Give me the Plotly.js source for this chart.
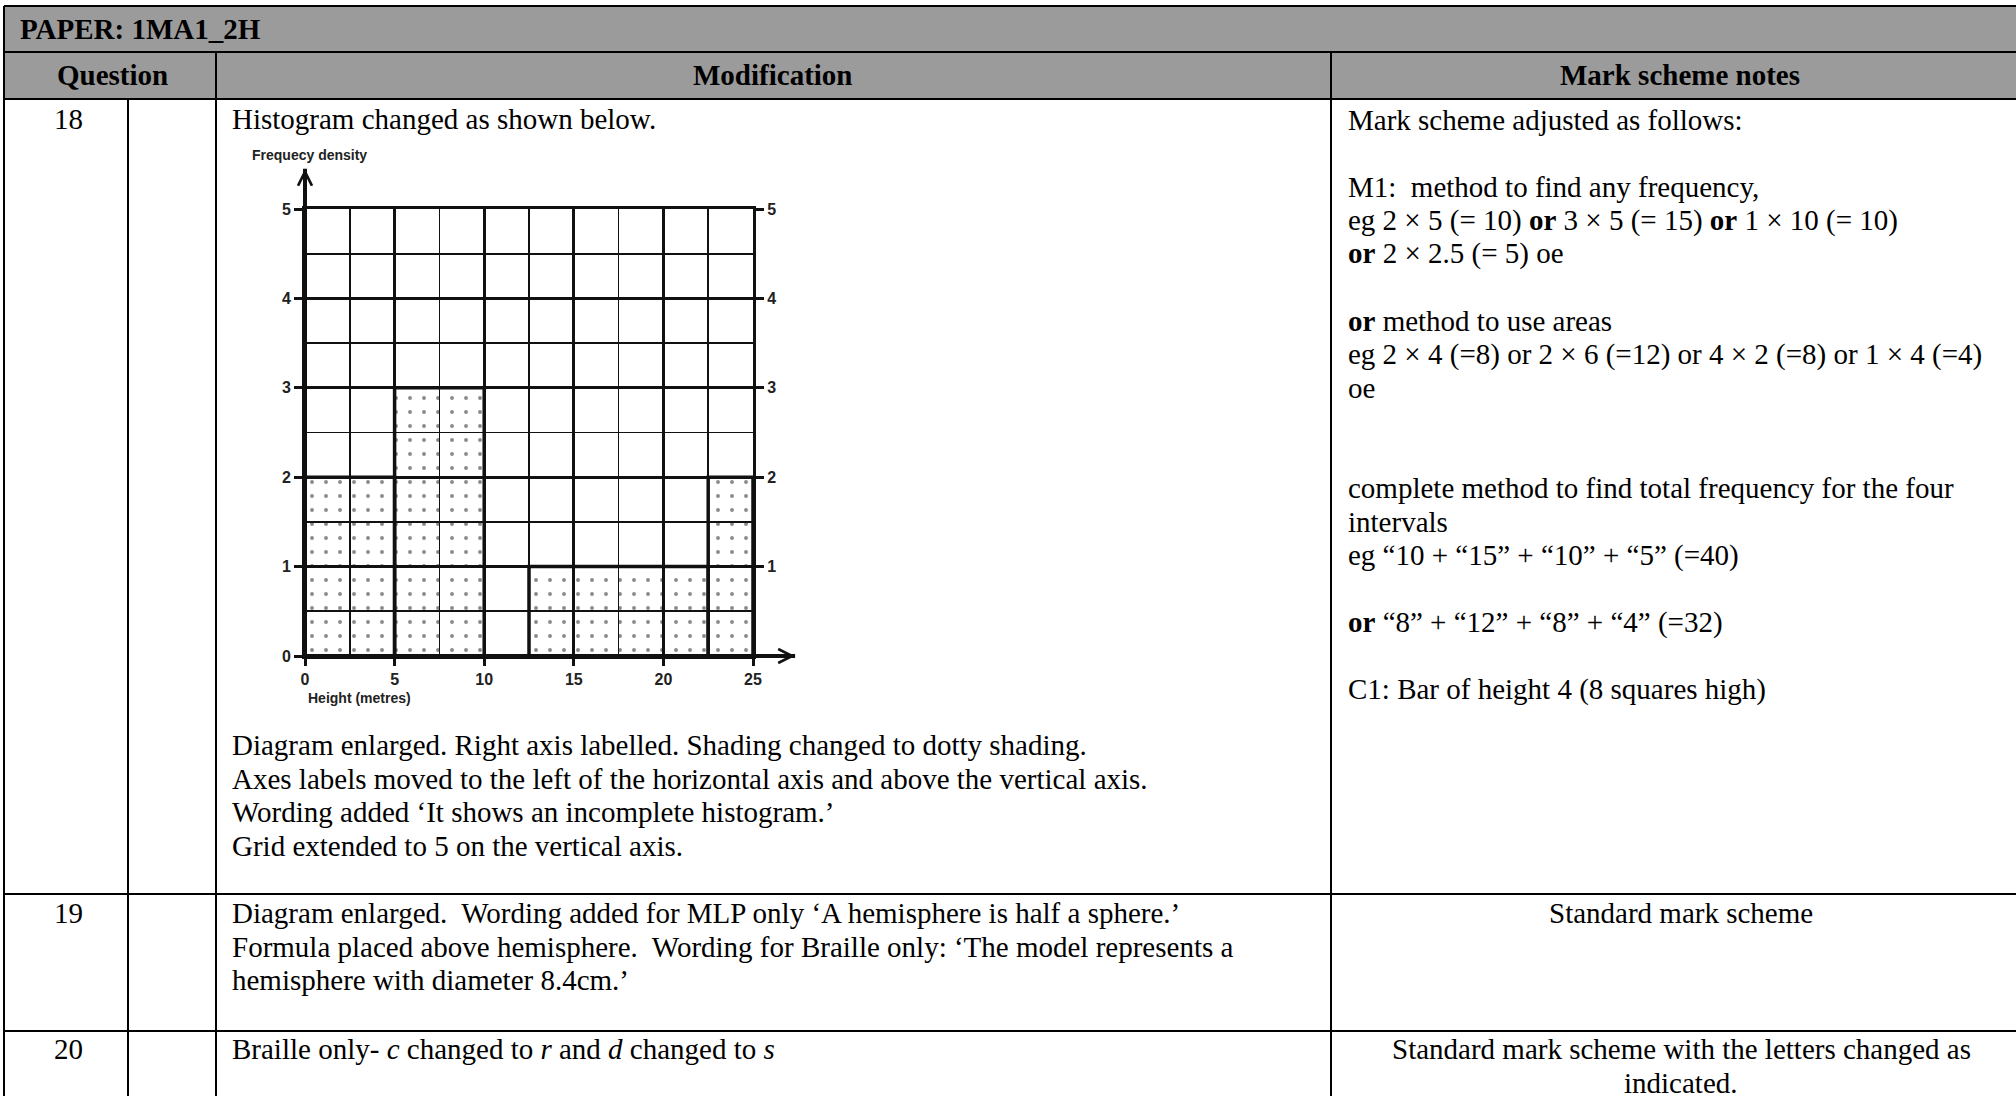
<!DOCTYPE html>
<html>
<head>
<meta charset="utf-8">
<script src="https://cdn.plot.ly/plotly-3.0.1.min.js"></script>
<style>
  html, body { margin: 0; padding: 0; background: #fff; }
  #page { width: 2016px; height: 1096px; }
</style>
</head>
<body>
<div id="page"></div>
<script>
// histogram values
var binStart = [0, 5, 12.5, 22.5];
var binEnd = [5, 10, 22.5, 25];
var freqDensity = [2, 3, 1, 2];
var xTickVals = [0, 5, 10, 15, 20, 25];
var yTickVals = [0, 1, 2, 3, 4, 5];
var rightTickVals = [1, 2, 3, 4, 5];
var yAxisLabel = "Frequecy density";
var xAxisLabel = "Height (metres)";

// table text
var paperTitle = "PAPER: 1MA1_2H";
var headers = ["Question", "Modification", "Mark scheme notes"];
var questionNums = ["18", "19", "20"];
var modQ18Top = "Histogram changed as shown below.";
var modQ18 = [
  "Diagram enlarged. Right axis labelled. Shading changed to dotty shading.",
  "Axes labels moved to the left of the horizontal axis and above the vertical axis.",
  "Wording added ‘It shows an incomplete histogram.’",
  "Grid extended to 5 on the vertical axis."
];
var modQ19 = [
  "Diagram enlarged.\u00a0 Wording added for MLP only ‘A hemisphere is half a sphere.’",
  "Formula placed above hemisphere.\u00a0 Wording for Braille only: ‘The model represents a",
  "hemisphere with diameter 8.4cm.’"
];
var modQ20 = ["Braille only- <i>c</i> changed to <i>r</i> and <i>d</i> changed to <i>s</i>"];
var notesQ18 = [
  "Mark scheme adjusted as follows:",
  "",
  "M1:\u00a0 method to find any frequency,",
  "eg 2 × 5 (= 10) <b>or</b> 3 × 5 (= 15) <b>or</b> 1 × 10 (= 10)",
  "<b>or</b> 2 × 2.5 (= 5) oe",
  "",
  "<b>or</b> method to use areas",
  "eg 2 × 4 (=8) or 2 × 6 (=12) or 4 × 2 (=8) or 1 × 4 (=4)",
  "oe",
  "",
  "",
  "complete method to find total frequency for the four",
  "intervals",
  "eg “10 + “15” + “10” + “5” (=40)",
  "",
  "<b>or</b> “8” + “12” + “8” + “4” (=32)",
  "",
  "C1: Bar of height 4 (8 squares high)"
];
var notesQ19 = ["Standard mark scheme"];
var notesQ20 = ["Standard mark scheme with the letters changed as", "indicated."];

// page geometry helpers (pixels -> paper)
var W = 2016, H = 1096;
function px(x) { return x / W; }
function py(y) { return 1 - y / H; }

var serif = "Liberation Serif, Times New Roman, serif";
var sans = "Liberation Sans, Arial, sans-serif";
var lineGap = 33.5;

var annotations = [];
function txt(x, y, text, anchor, bold) {
  annotations.push({
    xref: "paper", yref: "paper", x: px(x), y: py(y),
    xanchor: anchor || "left", yanchor: "middle",
    text: bold ? "<b>" + text + "</b>" : text,
    showarrow: false,
    font: {family: serif, size: 29, color: "#000"}
  });
}
function block(x, y0, lines, anchor) {
  lines.forEach(function(l, i) {
    if (l) txt(x, y0 + i * lineGap, l, anchor);
  });
}

// header text
txt(18, 29, paperTitle, "left", true);
txt(112, 75, headers[0], "center", true);
txt(773, 75, headers[1], "center", true);
txt(1680, 75, headers[2], "center", true);

// rows
txt(68, 119, questionNums[0], "center");
txt(68, 913, questionNums[1], "center");
txt(68, 1049, questionNums[2], "center");
txt(230, 119, modQ18Top);
block(230, 745, modQ18);
block(230, 913, modQ19);
block(230, 1049, modQ20);
block(1346, 120, notesQ18);
block(1681, 913, notesQ19, "center");
block(1681, 1049, notesQ20, "center");

// table lines and header fills
var shapes = [];
function rect(x0, y0, x1, y1, fill) {
  shapes.push({type: "rect", xref: "paper", yref: "paper", layer: "below",
    x0: px(x0), x1: px(x1), y0: py(y1), y1: py(y0),
    fillcolor: fill, line: {width: 0}});
}
function line(x0, y0, x1, y1) {
  shapes.push({type: "line", xref: "paper", yref: "paper", layer: "above",
    x0: px(x0), x1: px(x1), y0: py(y0), y1: py(y1),
    line: {color: "#000", width: 2}});
}
rect(4, 6, W, 99, "#9b9b9b");
[6, 52, 99, 894, 1031].forEach(function(y) { line(4, y, W, y); });
line(4, 6, 4, H);
line(128, 99, 128, H);
line(216, 52, 216, H);
line(1331, 52, 1331, H);

// histogram
var mids = binStart.map(function(s, i) { return (s + binEnd[i]) / 2; });
var widths = binStart.map(function(s, i) { return binEnd[i] - s; });

var bars = {
  type: "bar",
  x: mids,
  y: freqDensity,
  width: widths,
  marker: {
    color: "rgba(0,0,0,0)",
    line: {color: "#111", width: 3.5},
    pattern: {shape: ".", fgcolor: "#111", bgcolor: "rgba(0,0,0,0)", size: 14, solidity: 0.06, fillmode: "overlay"}
  },
  hoverinfo: "skip",
  showlegend: false
};
var rightAxis = {
  type: "scatter", mode: "none", x: xTickVals, y: yTickVals,
  yaxis: "y2", hoverinfo: "skip", showlegend: false
};

var tickFont = {family: sans, size: 16, color: "#222", weight: "bold"};
var labelFont = {family: sans, size: 14, color: "#222", weight: "bold"};

// axis arrows: thick shaft, then a thinner open head over it
function arrow(x, y) {
  annotations.push({
    xref: "x", yref: "y", axref: "x", ayref: "y",
    x: x, y: y, ax: 0, ay: 0, text: "",
    showarrow: true, arrowhead: 0, arrowwidth: 4, arrowcolor: "#111", standoff: 0
  });
  annotations.push({
    xref: "x", yref: "y", axref: "x", ayref: "y",
    x: x, y: y, ax: 0, ay: 0, text: "",
    showarrow: true, arrowhead: 5, arrowsize: 1.05, arrowwidth: 2.6, arrowcolor: "#111", standoff: 0
  });
}
arrow(0, 5.45);
arrow(27.35, 0);

annotations.push({
  xref: "paper", yref: "paper", x: px(250), y: py(155), xanchor: "left", yanchor: "middle",
  text: yAxisLabel, showarrow: false, font: labelFont
});
annotations.push({
  xref: "paper", yref: "paper", x: px(306), y: py(698), xanchor: "left", yanchor: "middle",
  text: xAxisLabel, showarrow: false, font: labelFont
});

var layout = {
  width: W,
  height: H,
  margin: {l: 0, r: 0, t: 0, b: 0},
  paper_bgcolor: "#fff",
  plot_bgcolor: "rgba(0,0,0,0)",
  showlegend: false,
  xaxis: {
    domain: [px(305), px(753)],
    range: [0, 25],
    tickmode: "array", tickvals: xTickVals,
    ticks: "outside", ticklen: 7, tickwidth: 3, tickcolor: "#111",
    showgrid: true, gridcolor: "#111", gridwidth: 3,
    minor: {tickmode: "linear", tick0: 0, dtick: 2.5, showgrid: true, gridcolor: "#111", gridwidth: 1.6, ticks: ""},
    showline: true, mirror: true, linecolor: "#111", linewidth: 3,
    zeroline: false, tickfont: tickFont, fixedrange: true
  },
  yaxis: {
    domain: [py(656), py(209)],
    range: [0, 5],
    tickmode: "array", tickvals: yTickVals,
    ticks: "outside", ticklen: 8, tickwidth: 3, tickcolor: "#111",
    showgrid: true, gridcolor: "#111", gridwidth: 3,
    minor: {tickmode: "linear", tick0: 0, dtick: 0.5, showgrid: true, gridcolor: "#111", gridwidth: 1.6, ticks: ""},
    showline: true, mirror: true, linecolor: "#111", linewidth: 3,
    zeroline: false, tickfont: tickFont, fixedrange: true
  },
  yaxis2: {
    overlaying: "y", side: "right", anchor: "x",
    range: [0, 5],
    tickmode: "array", tickvals: rightTickVals,
    ticks: "outside", ticklen: 10, tickwidth: 3, tickcolor: "#111",
    showgrid: false, zeroline: false, showline: false,
    tickfont: tickFont, fixedrange: true
  },
  shapes: shapes,
  annotations: annotations
};

Plotly.newPlot("page", [bars, rightAxis], layout, {displayModeBar: false, staticPlot: true});
</script>
</body>
</html>
